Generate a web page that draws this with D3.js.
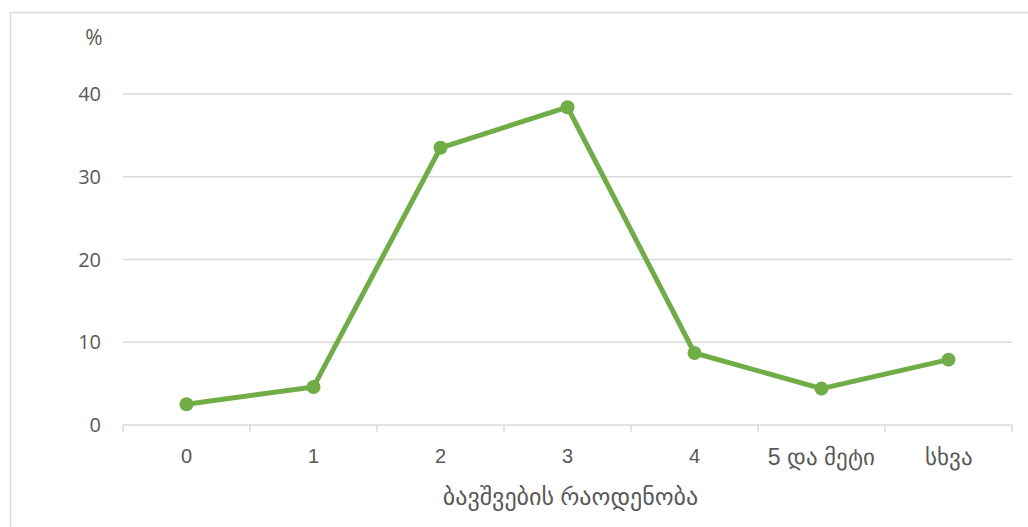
<!DOCTYPE html>
<html><head><meta charset="utf-8">
<script src="https://cdn.jsdelivr.net/npm/d3@7"></script>
<style>
body{margin:0;background:#fff;}
svg{display:block;font-family:"Open Sans","DejaVu Sans","Noto Sans",sans-serif;}
</style></head>
<body>
<svg id="chart" width="1028" height="527"></svg>
<script>
const categories = ["0","1","2","3","4","5 და მეტი","სხვა"];
const values = [2.5, 4.6, 33.5, 38.4, 8.7, 4.4, 7.9];
const yTicks = [0,10,20,30,40];
const yUnit = "%";
const xTitle = "ბავშვების რაოდენობა";

const svg = d3.select("#chart");
const m = {left:123, right:1012, top:94, bottom:425};

svg.append("rect").attr("x",10.5).attr("y",12.5).attr("width",1030).attr("height",530)
  .attr("fill","none").attr("stroke","#d9d9d9").attr("stroke-width",1.5);

const x = d3.scaleBand().domain(categories).range([m.left,m.right]).padding(0);
const y = d3.scaleLinear().domain([0,40]).range([m.bottom,m.top]);

svg.append("g").selectAll("line").data(yTicks.filter(d=>d>0)).join("line")
  .attr("x1",m.left).attr("x2",m.right)
  .attr("y1",d=>y(d)).attr("y2",d=>y(d))
  .attr("stroke","#d9d9d9").attr("stroke-width",1.5);

svg.append("g").selectAll("text").data(yTicks).join("text")
  .attr("x",101).attr("y",d=>y(d)).attr("dy","0.35em")
  .attr("text-anchor","end").attr("fill","#595959").attr("font-size",20)
  .text(d=>d);
svg.append("text").attr("x",94).attr("y",38).attr("dy","0.35em")
  .attr("text-anchor","middle").attr("fill","#595959").attr("font-size",21).text(yUnit);

const xAxis = d3.axisBottom(x).tickSize(0).tickPadding(24);
const gx = svg.append("g").attr("transform",`translate(0,${m.bottom})`).call(xAxis);
gx.select(".domain").attr("stroke","#d9d9d9").attr("stroke-width",1.5).attr("d",`M${m.left},0H${m.right}`);
gx.selectAll("text").attr("fill","#595959").attr("font-family","inherit")
  .attr("font-size",d=>/[\u10A0-\u10FF]/.test(d)?23:20);
const bounds = categories.map(c=>x(c)).concat([x(categories[categories.length-1])+x.bandwidth()]);
svg.append("g").selectAll("line").data(bounds).join("line")
  .attr("x1",d=>d).attr("x2",d=>d).attr("y1",m.bottom).attr("y2",m.bottom+7)
  .attr("stroke","#d9d9d9").attr("stroke-width",1.5);

svg.append("text").attr("x",(m.left+m.right)/2 + 3).attr("y",497).attr("dy","0.35em")
  .attr("text-anchor","middle").attr("fill","#595959").attr("font-size",24).text(xTitle);

const cx = c => x(c)+x.bandwidth()/2;
const line = d3.line().x((d,i)=>cx(categories[i])).y(d=>y(d));
svg.append("path").datum(values).attr("d",line).attr("fill","none")
  .attr("stroke","#70ad47").attr("stroke-width",5).attr("stroke-linejoin","round");
svg.append("g").selectAll("circle").data(values).join("circle")
  .attr("cx",(d,i)=>cx(categories[i])).attr("cy",d=>y(d)).attr("r",7)
  .attr("fill","#70ad47");
</script>
</body></html>
